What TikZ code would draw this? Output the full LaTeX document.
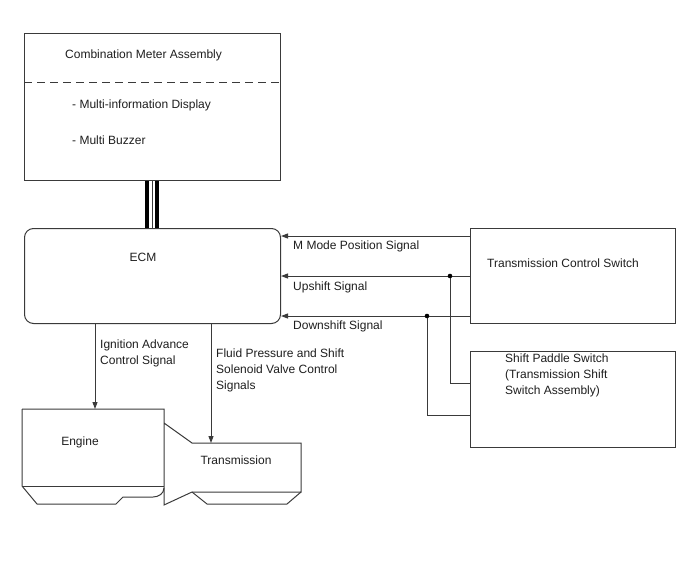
\documentclass[tikz,border=0pt]{standalone}
\usepackage{fontspec}
\setmainfont{Liberation Sans}
\usetikzlibrary{arrows.meta,positioning,calc}
\definecolor{dgInk} {HTML}{1E1E1E}
\definecolor{dgLine}{HTML}{3A3A3A}

\tikzset{
  unitbox/.style={draw=dgLine,line width=1pt,anchor=north west,inner sep=0,
    minimum width=#1},
  lbl/.style={inner sep=0,text=dgInk,font=\fontsize{12}{16}\selectfont},
  sig/.style={draw=dgLine,line width=1pt,-{Triangle[length=7pt,width=5pt]}},
  wire/.style={draw=dgLine,line width=1pt},
  junc/.style={fill=black}
}

\begin{document}
\begin{tikzpicture}[x=1pt,y=-1pt]
  \useasboundingbox (0,0) rectangle (688,560);

  % blocks
  \node[unitbox=256pt,minimum height=147pt] (meter) at (24,33) {};
  \node[unitbox=256pt,minimum height=95pt,rounded corners=9pt] (ecm) at (24,228) {};
  \node[unitbox=205pt,minimum height=95pt] (tcs) at (470,228) {};
  \node[unitbox=205pt,minimum height=96pt] (paddle) at (470,351) {};

  \draw[wire,dash pattern=on 8pt off 5pt] (meter.west |- 0,82) -- (meter.east |- 0,82);

  % texts
  \node[lbl,anchor=west] (tMeter) at (65,55) {Combination Meter Assembly};
  \node[lbl,anchor=west] (tMid) at (72,105) {- Multi-information Display};
  \node[lbl,anchor=west] (tBuz) at (72,140) {- Multi Buzzer};
  \node[lbl] (tEcm) at (143,257) {ECM};
  \node[lbl] (tTcs) at (563,263) {Transmission Control Switch};
  \node[lbl,anchor=north west,align=left] (tPad) at (505,354)
    {Shift Paddle Switch\\(Transmission Shift\\Switch Assembly)};

  % bus between meter and ECM
  \draw[draw=black,line width=4pt] (meter.south -| 147,0) -- (ecm.north -| 147,0);
  \draw[draw=black,line width=4pt] (meter.south -| 157,0) -- (ecm.north -| 157,0);
  \draw[draw=dgLine,line width=0.8pt] (meter.south -| 152,0) -- (ecm.north -| 152,0);

  % signals from the switches
  \draw[sig] (tcs.west |- 0,236) -- (ecm.east |- 0,236);
  \draw[sig] (tcs.west |- 0,276) -- (ecm.east |- 0,276);
  \draw[sig] (tcs.west |- 0,316) -- (ecm.east |- 0,316);
  \node[lbl,anchor=west] (sMode) at (293,246) {M Mode Position Signal};
  \node[lbl,anchor=west] (sUp) at (293,287) {Upshift Signal};
  \node[lbl,anchor=west] (sDown) at (293,326) {Downshift Signal};

  \coordinate (jUp) at (450,276);
  \coordinate (jDown) at (427,316);
  \draw[wire] (jUp) |- (paddle.west |- 0,383);
  \draw[wire] (jDown) |- (paddle.west |- 0,415);
  \fill[junc] (jUp) circle (2.3pt);
  \fill[junc] (jDown) circle (2.3pt);

  % engine and transmission
  \draw[wire] (22,409) -- (164,409) -- (164,505) -- (192,492) -- (301,492)
    -- (301,443) -- (192,443) -- (164,423);
  \draw[wire] (22,409) -- (22,486) -- (37,504) -- (116,504) -- (123,497) -- (153,497)
    to[out=0,in=-90] (164,488);
  \draw[wire] (22,486) -- (164,486);
  \draw[wire] (192,492) -- (207,504) -- (287,504) -- (301,492);
  \coordinate (engTop) at (95,409);
  \coordinate (trTop) at (211,443);
  \node[lbl] (tEng) at (80,442) {Engine};
  \node[lbl] (tTr) at (236,460) {Transmission};

  % outputs of the ECM
  \draw[sig] (ecm.south -| engTop) -- (engTop);
  \draw[sig] (ecm.south -| trTop) -- (trTop);
  \node[lbl,anchor=north west,align=left] (sIgn) at (100,340)
    {Ignition Advance\\Control Signal};
  \node[lbl,anchor=north west,align=left] (sFluid) at (216,349)
    {Fluid Pressure and Shift\\Solenoid Valve Control\\Signals};
\end{tikzpicture}
\end{document}
